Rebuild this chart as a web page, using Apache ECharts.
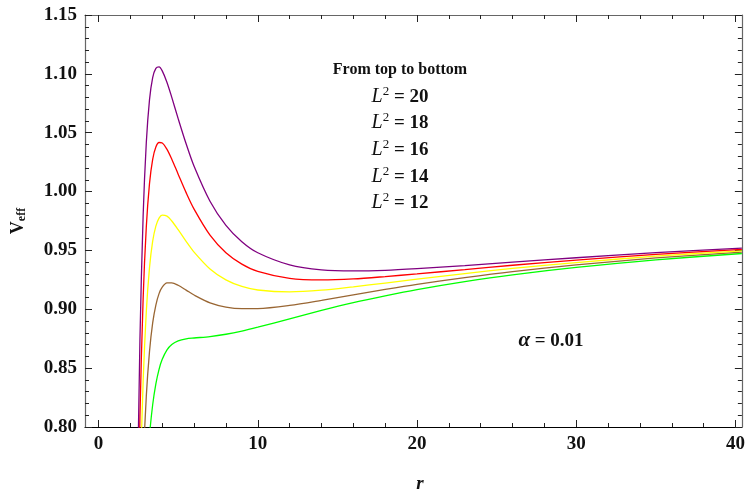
<!DOCTYPE html>
<html>
<head>
<meta charset="utf-8">
<title>V_eff</title>
<script src="https://cdn.jsdelivr.net/npm/echarts@6/dist/echarts.min.js"></script>
<style>
  html, body { margin: 0; padding: 0; background: #fff; }
  #main { width: 748px; height: 495px; }
</style>
</head>
<body>
<div id="main"></div>
<script type="text/javascript">
    // r values
    var rValues = [2.4, 2.6, 2.8, 3.0, 3.2, 3.4, 3.6, 3.8, 4.0, 4.3, 4.6, 5.0, 5.5, 6.0, 7.0, 8.0, 9.0, 10, 12, 14, 16, 18, 20, 23, 26, 30, 35, 40.4];

    // V_eff, from top to bottom
    var veffL20 = [0.7008, 0.8741, 0.9790, 1.0417, 1.0779, 1.0969, 1.1047, 1.1059, 1.1025, 1.0927, 1.0800, 1.0620, 1.0406, 1.0215, 0.9918, 0.9713, 0.9574, 0.9480, 0.9377, 0.9335, 0.9326, 0.9331, 0.9345, 0.9371, 0.9401, 0.9438, 0.9481, 0.9520];
    var veffL18 = [0.6464, 0.8088, 0.9087, 0.9700, 1.0067, 1.0274, 1.0378, 1.0417, 1.0413, 1.0359, 1.0275, 1.0148, 0.9991, 0.9851, 0.9630, 0.9481, 0.9384, 0.9322, 0.9262, 0.9249, 0.9258, 0.9278, 0.9301, 0.9337, 0.9374, 0.9418, 0.9466, 0.9509];
    var veffL16 = [0.5920, 0.7434, 0.8384, 0.8981, 0.9353, 0.9579, 0.9707, 0.9775, 0.9800, 0.9791, 0.9750, 0.9676, 0.9577, 0.9486, 0.9343, 0.9250, 0.9194, 0.9164, 0.9148, 0.9162, 0.9191, 0.9223, 0.9256, 0.9303, 0.9347, 0.9397, 0.9451, 0.9497];
    var veffL14 = [0.5376, 0.6781, 0.7681, 0.8262, 0.8640, 0.8884, 0.9036, 0.9133, 0.9188, 0.9224, 0.9225, 0.9204, 0.9163, 0.9121, 0.9055, 0.9019, 0.9005, 0.9006, 0.9033, 0.9076, 0.9123, 0.9169, 0.9212, 0.9269, 0.9320, 0.9377, 0.9436, 0.9486];
    var veffL12 = [0.4832, 0.6127, 0.6978, 0.7544, 0.7927, 0.8189, 0.8366, 0.8490, 0.8575, 0.8656, 0.8701, 0.8732, 0.8749, 0.8756, 0.8768, 0.8788, 0.8815, 0.8848, 0.8919, 0.8990, 0.9056, 0.9114, 0.9167, 0.9235, 0.9293, 0.9356, 0.9420, 0.9474];

    var seriesNames = ['L2=20', 'L2=18', 'L2=16', 'L2=14', 'L2=12'];
    var seriesValues = [veffL20, veffL18, veffL16, veffL14, veffL12];
    var seriesColors = ['#800080', '#ff0000', '#ffff00', '#996633', '#00ff00'];

    var xMajor = [0, 10, 20, 30, 40];
    var xMinor = [2, 4, 6, 8, 12, 14, 16, 18, 22, 24, 26, 28, 32, 34, 36, 38];

    var serifFont = '"Liberation Serif", "DejaVu Serif", serif';

    function pairs(vals) {
        var out = [];
        for (var i = 0; i < rValues.length; i++) {
            out.push([rValues[i], vals[i]]);
        }
        return out;
    }

    function xAxisDef(pos, ticks, len, showLine, showLabel, lineColor) {
        return {
            type: 'value', position: pos, min: -0.85, max: 40.4,
            axisLine: { show: showLine, onZero: false, lineStyle: { color: lineColor, width: 1.2 } },
            axisTick: { show: true, inside: true, length: len, customValues: ticks, lineStyle: { color: '#222', width: 1 } },
            axisLabel: {
                show: showLabel, customValues: xMajor, margin: 8,
                fontFamily: serifFont, fontWeight: 'bold', fontSize: 19, color: '#111'
            },
            splitLine: { show: false }
        };
    }

    function yAxisDef(pos, showLabel) {
        var ax = {
            type: 'value', position: pos, min: 0.80, max: 1.15, interval: 0.05,
            axisLine: { show: true, onZero: false, lineStyle: { color: '#666', width: 1.2 } },
            axisTick: { show: true, inside: true, length: 7, lineStyle: { color: '#222' } },
            minorTick: { show: true, splitNumber: 5, length: 4, lineStyle: { color: '#222' } },
            axisLabel: {
                show: showLabel, margin: 8, fontFamily: serifFont, fontWeight: 'bold', fontSize: 19, color: '#111',
                formatter: function (v) { return v.toFixed(2); }
            },
            splitLine: { show: false }
        };
        if (showLabel) {
            ax.name = '{v|V}{s|eff}';
            ax.nameLocation = 'middle';
            ax.nameGap = 57;
            ax.nameRotate = 90;
            ax.nameTextStyle = {
                rich: {
                    v: { fontFamily: serifFont, fontWeight: 'bold', fontSize: 18, color: '#111' },
                    s: { fontFamily: serifFont, fontWeight: 'bold', fontSize: 12, color: '#111', verticalAlign: 'bottom', padding: [8, 0, 0, 0] }
                }
            };
        }
        return ax;
    }

    function legendLine(val, y) {
        return {
            type: 'text', x: 400, y: y,
            style: {
                text: '{i|L}{s|2}{b| = ' + val + '}', align: 'center', verticalAlign: 'middle',
                rich: {
                    i: { font: 'italic 20px ' + serifFont, fill: '#111' },
                    s: { font: '13px ' + serifFont, fill: '#111', verticalAlign: 'top', padding: [0, 0, 11, 0] },
                    b: { font: 'bold 19px ' + serifFont, fill: '#111' }
                }
            }
        };
    }

    var myChart = echarts.init(document.getElementById('main'));

    var series = [];
    for (var k = 0; k < seriesValues.length; k++) {
        series.push({
            name: seriesNames[k],
            type: 'line',
            data: pairs(seriesValues[k]),
            smooth: 0.3,
            showSymbol: false,
            clip: true,
            lineStyle: { color: seriesColors[k], width: 1.3 },
            z: 10 - k
        });
    }

    var option = {
        animation: false,
        backgroundColor: '#fff',
        grid: { left: 85, right: 3, top: 15, bottom: 68, show: false },
        xAxis: [
            xAxisDef('bottom', xMajor, 7, true, true, '#000'),
            xAxisDef('bottom', xMinor, 4, false, false, '#000'),
            xAxisDef('top', xMajor, 7, true, false, '#666'),
            xAxisDef('top', xMinor, 4, false, false, '#666')
        ],
        yAxis: [
            yAxisDef('left', true),
            yAxisDef('right', false)
        ],
        graphic: [
            {
                type: 'text', x: 420, y: 484,
                style: { text: 'r', font: 'italic bold 19px ' + serifFont, fill: '#111', align: 'center', verticalAlign: 'middle' }
            },
            {
                type: 'text', x: 400, y: 70,
                style: { text: 'From top to bottom', font: 'bold 16px ' + serifFont, fill: '#111', align: 'center', verticalAlign: 'middle' }
            },
            legendLine(20, 97),
            legendLine(18, 123),
            legendLine(16, 150),
            legendLine(14, 177),
            legendLine(12, 203),
            {
                type: 'text', x: 551, y: 341,
                style: {
                    text: '{i|α}{b| = 0.01}', align: 'center', verticalAlign: 'middle',
                    rich: {
                        i: { font: 'italic bold 21px ' + serifFont, fill: '#111' },
                        b: { font: 'bold 19px ' + serifFont, fill: '#111' }
                    }
                }
            }
        ],
        series: series
    };

    myChart.setOption(option);
</script>
</body>
</html>
